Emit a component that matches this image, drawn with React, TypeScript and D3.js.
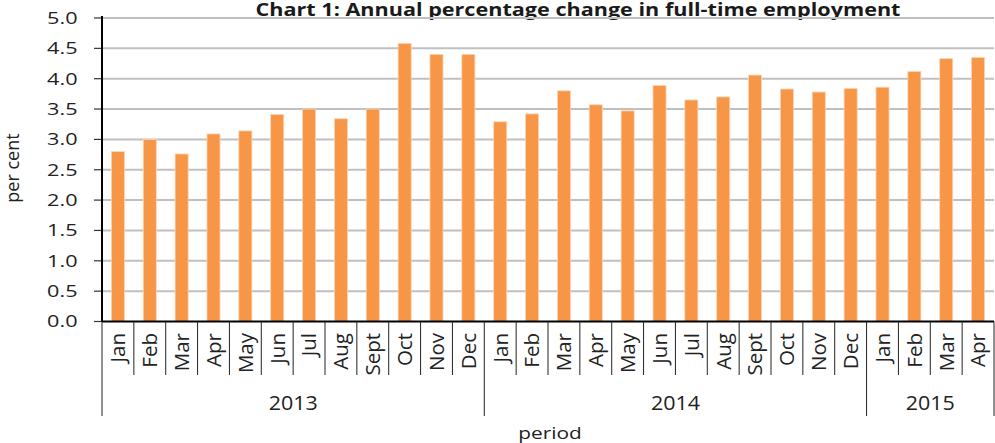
import React from "react";
import * as d3 from "d3";

const years = ["2013", "2014", "2015"];
const months2013 = ["Jan", "Feb", "Mar", "Apr", "May", "Jun", "Jul", "Aug", "Sept", "Oct", "Nov", "Dec"];
const months2014 = ["Jan", "Feb", "Mar", "Apr", "May", "Jun", "Jul", "Aug", "Sept", "Oct", "Nov", "Dec"];
const months2015 = ["Jan", "Feb", "Mar", "Apr"];
const values2013 = [2.8, 3.0, 2.76, 3.09, 3.14, 3.41, 3.5, 3.34, 3.5, 4.58, 4.4, 4.4];
const values2014 = [3.29, 3.42, 3.8, 3.57, 3.47, 3.89, 3.65, 3.7, 4.06, 3.83, 3.78, 3.84];
const values2015 = [3.86, 4.12, 4.33, 4.35];
const yTicks = [0, 0.5, 1, 1.5, 2, 2.5, 3, 3.5, 4, 4.5, 5];

const W = 995;
const H = 443;
const left = 102;
const right = 994;
const top = 18;
const bottom = 321.5;
const font = "'Open Sans', sans-serif";
const ink = "#222";

export default function App() {
  const groups = [
    { year: years[0], months: months2013, values: values2013 },
    { year: years[1], months: months2014, values: values2014 },
    { year: years[2], months: months2015, values: values2015 },
  ];
  const rows = groups.flatMap((g) =>
    g.months.map((m, i) => ({ key: `${g.year}-${m}`, month: m, year: g.year, value: g.values[i] }))
  );

  const pad = 0.59;
  const x = d3
    .scaleBand()
    .domain(rows.map((r) => r.key))
    .range([left, right])
    .paddingInner(pad)
    .paddingOuter(pad / 2);
  const step = x.step();
  const y = d3.scaleLinear().domain([0, 5]).range([bottom, top]);

  // category boundaries, and the ones that close a year
  const bounds = d3.range(rows.length + 1).map((i) => left + i * step);
  let acc = 0;
  const yearBounds = [0];
  groups.forEach((g) => {
    acc += g.months.length;
    yearBounds.push(acc);
  });

  return (
    <svg width={W} height={H} style={{ position: "absolute", left: 0, top: 0 }} fontFamily={font}>
      <rect width={W} height={H} fill="#fff" />
      <text
        transform="translate(578,15.5) scale(1.2,1)"
        textAnchor="middle"
        fontWeight="bold"
        fontSize={18}
        fill="#1a1a1a"
      >
        Chart 1: Annual percentage change in full-time employment
      </text>

      {yTicks.map((t) => (
        <g key={t}>
          {t > 0 && <line x1={left} x2={right} y1={y(t)} y2={y(t)} stroke="#c0c0c0" strokeWidth={2} />}
          <line x1={94} x2={left} y1={y(t)} y2={y(t)} stroke="#333" strokeWidth={1.2} />
          <text
            transform={`translate(77.5,${y(t)}) scale(1.32,1)`}
            dy="0.36em"
            textAnchor="end"
            fontSize={16.4}
            fill={ink}
          >
            {t.toFixed(1)}
          </text>
        </g>
      ))}

      {rows.map((r) => (
        <rect
          key={r.key}
          x={x(r.key)}
          y={y(r.value)}
          width={x.bandwidth()}
          height={y(0) - y(r.value)}
          fill="#f79646"
          stroke="#fcd5b4"
          strokeWidth={0.8}
        />
      ))}

      <line x1={left} x2={left} y1={top - 2} y2={bottom} stroke="#000" strokeWidth={2} />
      <line x1={left} x2={right} y1={bottom} y2={bottom} stroke="#000" strokeWidth={2} />

      {bounds.map((b, i) => (
        <line
          key={i}
          x1={b}
          x2={b}
          y1={bottom}
          y2={yearBounds.includes(i) ? 416 : 375}
          stroke={ink}
          strokeWidth={1}
        />
      ))}

      {rows.map((r) => {
        const cx = (x(r.key) as number) + x.bandwidth() / 2;
        return (
          <text
            key={r.key}
            transform={`translate(${cx},333) rotate(-90)`}
            textAnchor="end"
            dy="0.36em"
            fontSize={20.5}
            fill={ink}
          >
            {r.month}
          </text>
        );
      })}

      {groups.map((g, i) => {
        const cx = (bounds[yearBounds[i]] + bounds[yearBounds[i + 1]]) / 2;
        return (
          <text
            key={g.year}
            transform={`translate(${cx},410) scale(1.1,1)`}
            textAnchor="middle"
            fontSize={19.5}
            fill={ink}
          >
            {g.year}
          </text>
        );
      })}

      <text transform="translate(19,168) rotate(-90)" textAnchor="middle" fontSize={18} fill={ink}>
        per cent
      </text>
      <text transform="translate(550,439) scale(1.28,1)" textAnchor="middle" fontSize={16.3} fill={ink}>
        period
      </text>
    </svg>
  );
}
